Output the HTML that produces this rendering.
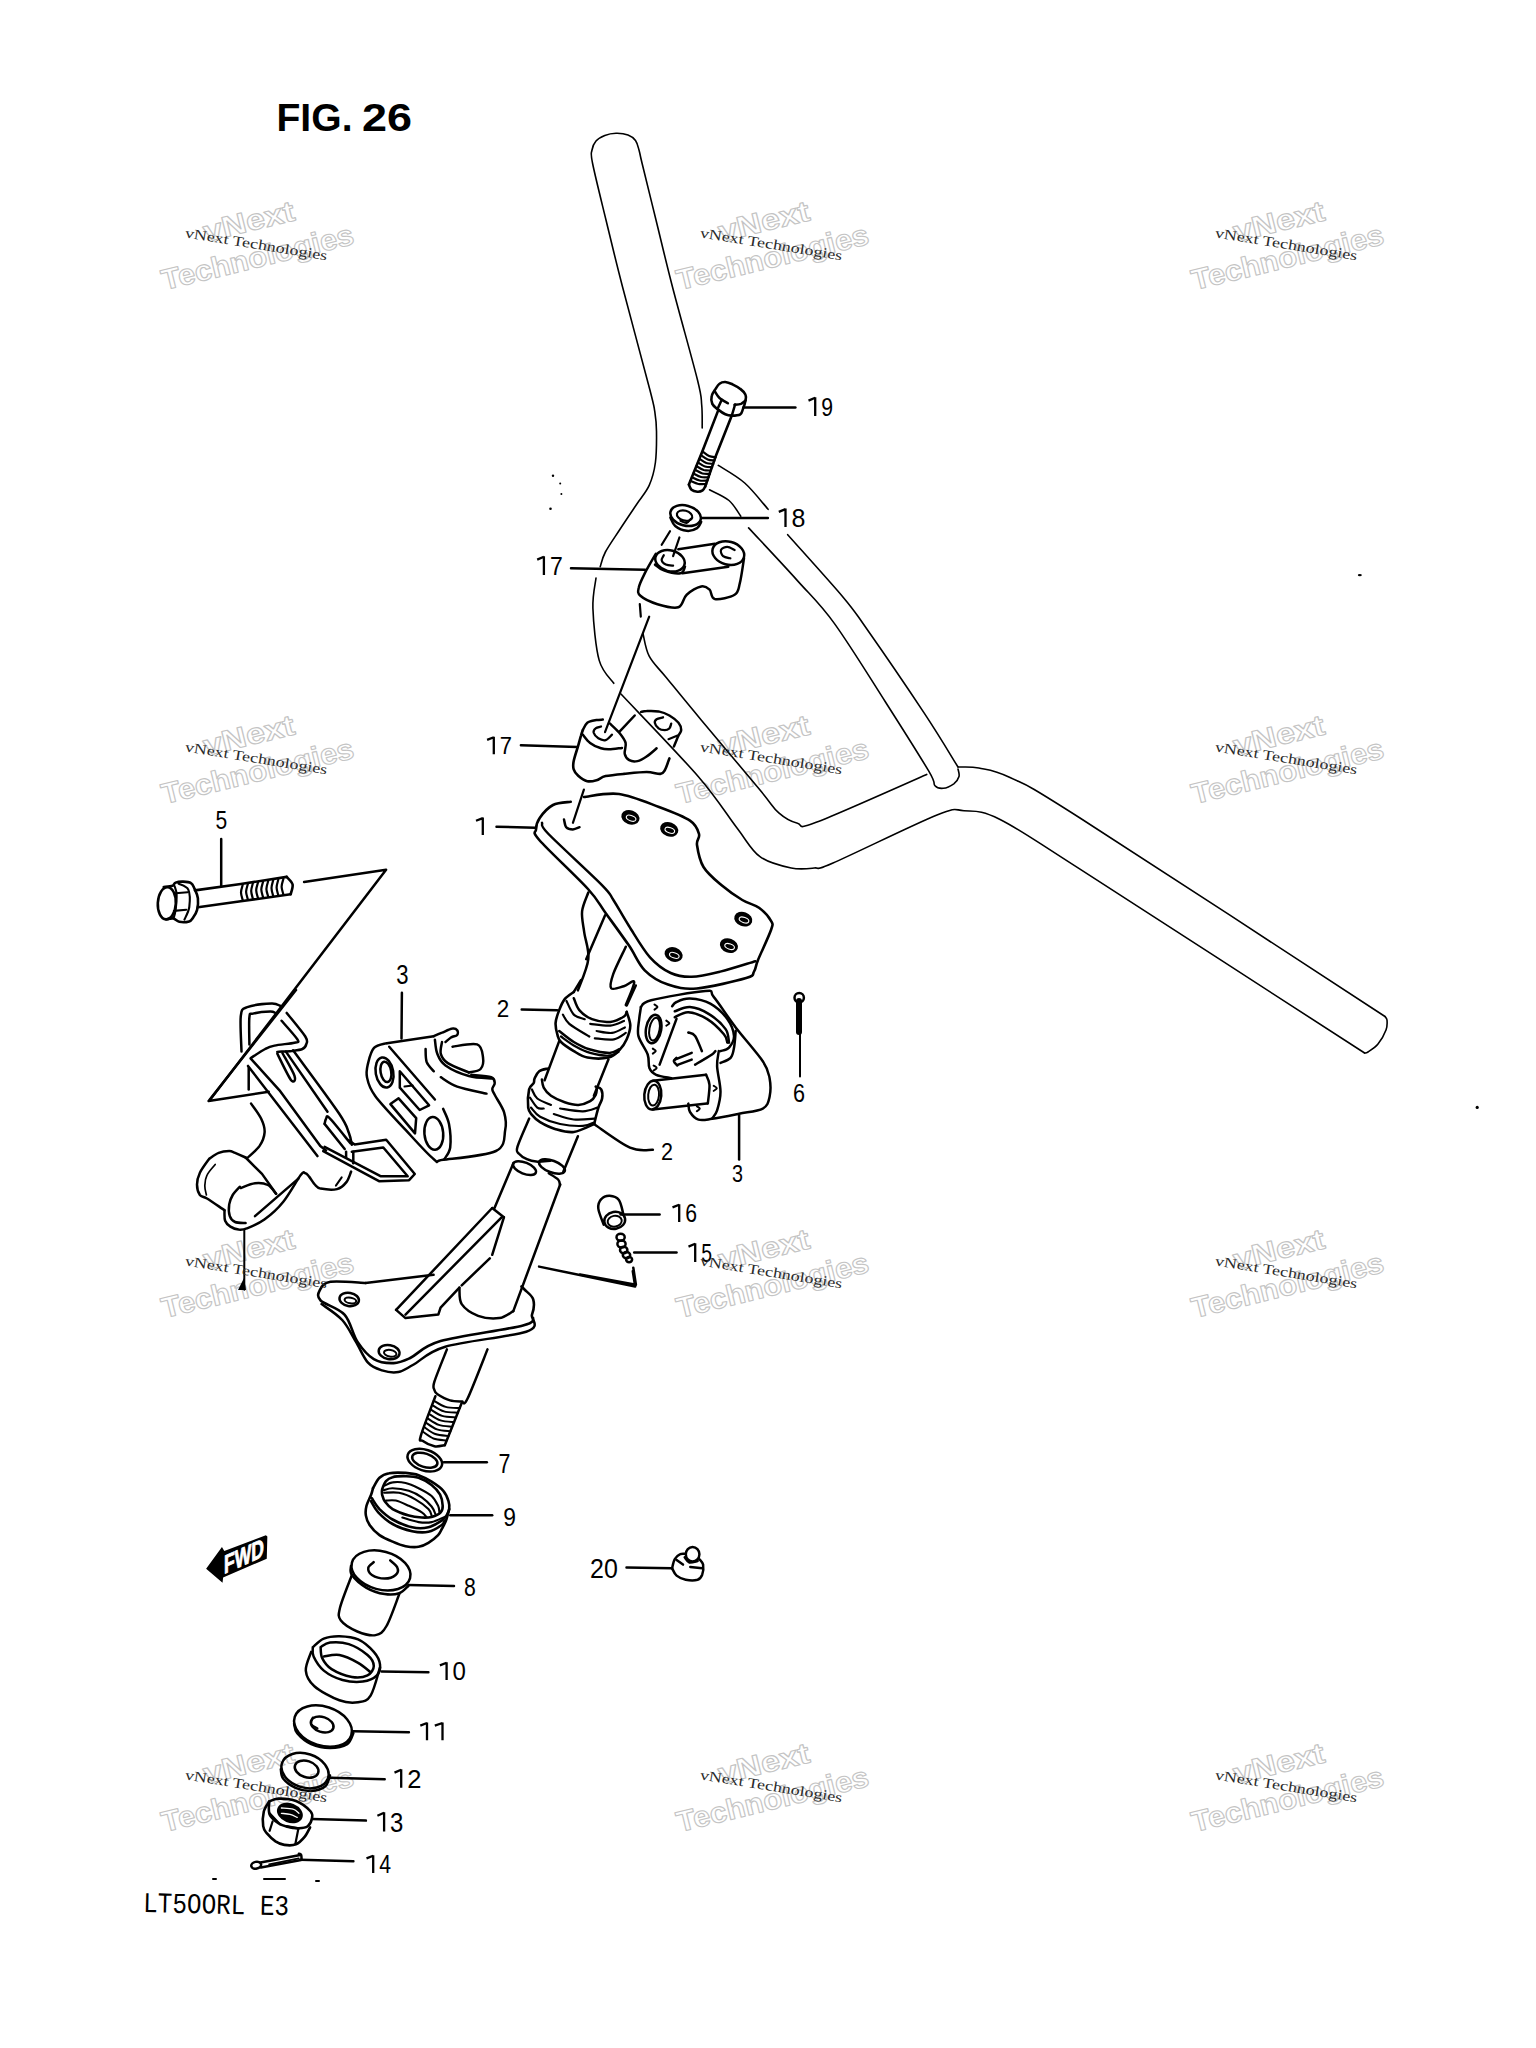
<!DOCTYPE html>
<html><head><meta charset="utf-8"><style>html,body{margin:0;padding:0;background:#fff;}svg{display:block;}</style></head>
<body><svg width="1536" height="2048" viewBox="0 0 1536 2048" stroke-linecap="round" stroke-linejoin="round">
<rect width="1536" height="2048" fill="#fff"/>
<g transform="translate(170.0 288.8) rotate(-13.7)" font-family="Liberation Sans" font-weight="bold" fill="#fff" stroke="#c4c4c4" stroke-width="1.1"><text x="-6" y="0" font-size="29" textLength="197" lengthAdjust="spacingAndGlyphs">Technologies</text><text x="46" y="-37" font-size="29" textLength="93" lengthAdjust="spacingAndGlyphs">vNext</text></g>
<g transform="translate(685.0 288.8) rotate(-13.7)" font-family="Liberation Sans" font-weight="bold" fill="#fff" stroke="#c4c4c4" stroke-width="1.1"><text x="-6" y="0" font-size="29" textLength="197" lengthAdjust="spacingAndGlyphs">Technologies</text><text x="46" y="-37" font-size="29" textLength="93" lengthAdjust="spacingAndGlyphs">vNext</text></g>
<g transform="translate(1200.0 288.8) rotate(-13.7)" font-family="Liberation Sans" font-weight="bold" fill="#fff" stroke="#c4c4c4" stroke-width="1.1"><text x="-6" y="0" font-size="29" textLength="197" lengthAdjust="spacingAndGlyphs">Technologies</text><text x="46" y="-37" font-size="29" textLength="93" lengthAdjust="spacingAndGlyphs">vNext</text></g>
<g transform="translate(170.0 802.8) rotate(-13.7)" font-family="Liberation Sans" font-weight="bold" fill="#fff" stroke="#c4c4c4" stroke-width="1.1"><text x="-6" y="0" font-size="29" textLength="197" lengthAdjust="spacingAndGlyphs">Technologies</text><text x="46" y="-37" font-size="29" textLength="93" lengthAdjust="spacingAndGlyphs">vNext</text></g>
<g transform="translate(685.0 802.8) rotate(-13.7)" font-family="Liberation Sans" font-weight="bold" fill="#fff" stroke="#c4c4c4" stroke-width="1.1"><text x="-6" y="0" font-size="29" textLength="197" lengthAdjust="spacingAndGlyphs">Technologies</text><text x="46" y="-37" font-size="29" textLength="93" lengthAdjust="spacingAndGlyphs">vNext</text></g>
<g transform="translate(1200.0 802.8) rotate(-13.7)" font-family="Liberation Sans" font-weight="bold" fill="#fff" stroke="#c4c4c4" stroke-width="1.1"><text x="-6" y="0" font-size="29" textLength="197" lengthAdjust="spacingAndGlyphs">Technologies</text><text x="46" y="-37" font-size="29" textLength="93" lengthAdjust="spacingAndGlyphs">vNext</text></g>
<g transform="translate(170.0 1316.8) rotate(-13.7)" font-family="Liberation Sans" font-weight="bold" fill="#fff" stroke="#c4c4c4" stroke-width="1.1"><text x="-6" y="0" font-size="29" textLength="197" lengthAdjust="spacingAndGlyphs">Technologies</text><text x="46" y="-37" font-size="29" textLength="93" lengthAdjust="spacingAndGlyphs">vNext</text></g>
<g transform="translate(685.0 1316.8) rotate(-13.7)" font-family="Liberation Sans" font-weight="bold" fill="#fff" stroke="#c4c4c4" stroke-width="1.1"><text x="-6" y="0" font-size="29" textLength="197" lengthAdjust="spacingAndGlyphs">Technologies</text><text x="46" y="-37" font-size="29" textLength="93" lengthAdjust="spacingAndGlyphs">vNext</text></g>
<g transform="translate(1200.0 1316.8) rotate(-13.7)" font-family="Liberation Sans" font-weight="bold" fill="#fff" stroke="#c4c4c4" stroke-width="1.1"><text x="-6" y="0" font-size="29" textLength="197" lengthAdjust="spacingAndGlyphs">Technologies</text><text x="46" y="-37" font-size="29" textLength="93" lengthAdjust="spacingAndGlyphs">vNext</text></g>
<g transform="translate(170.0 1830.8) rotate(-13.7)" font-family="Liberation Sans" font-weight="bold" fill="#fff" stroke="#c4c4c4" stroke-width="1.1"><text x="-6" y="0" font-size="29" textLength="197" lengthAdjust="spacingAndGlyphs">Technologies</text><text x="46" y="-37" font-size="29" textLength="93" lengthAdjust="spacingAndGlyphs">vNext</text></g>
<g transform="translate(685.0 1830.8) rotate(-13.7)" font-family="Liberation Sans" font-weight="bold" fill="#fff" stroke="#c4c4c4" stroke-width="1.1"><text x="-6" y="0" font-size="29" textLength="197" lengthAdjust="spacingAndGlyphs">Technologies</text><text x="46" y="-37" font-size="29" textLength="93" lengthAdjust="spacingAndGlyphs">vNext</text></g>
<g transform="translate(1200.0 1830.8) rotate(-13.7)" font-family="Liberation Sans" font-weight="bold" fill="#fff" stroke="#c4c4c4" stroke-width="1.1"><text x="-6" y="0" font-size="29" textLength="197" lengthAdjust="spacingAndGlyphs">Technologies</text><text x="46" y="-37" font-size="29" textLength="93" lengthAdjust="spacingAndGlyphs">vNext</text></g>
<path d="M600.2 566.7C601.1 564.2 602.1 558.2 605.4 552C608.7 545.8 614.8 537.2 620 529.2C625.2 521.2 631.8 511.5 636.7 504.2C641.6 496.9 646.1 492.3 649.2 485.4C652.3 478.4 654.2 471.5 655.4 462.5C656.6 453.5 656.6 439.7 656.5 431.2C656.4 422.8 655.9 418.8 654.8 411.7C653.6 404.6 655 409.6 649.6 388.8C644.2 367.9 629.8 314.8 622.5 286.7C615.2 258.6 611 240.6 606 220C601 199.4 594.8 174.7 592.5 163C590.2 151.3 591.4 153.7 592 150C592.6 146.3 593.9 143.4 596 141C598.1 138.6 601.5 136.8 604.8 135.5C608.1 134.2 612.1 133.4 616 133.3C619.9 133.2 624.8 133.8 628 135C631.2 136.2 633.7 138 635.5 140.5C637.3 143 637.9 146.2 639 150C640.1 153.8 639.2 151.3 642 163C644.8 174.7 650.9 199.3 656 220C661.1 240.7 665.6 260.3 672.5 287C679.4 313.7 692.6 360.3 697.5 380C702.4 399.7 700.9 397 701.7 405C702.5 413 702.1 424.2 702.2 428" stroke="#000" stroke-width="1.6" fill="none"/>
<path d="M596 578C595.5 583 592.4 594.6 592.9 608.3C593.4 622 595.7 647.9 599.2 660.4C602.7 672.9 611.3 679.5 613.8 683.3" stroke="#000" stroke-width="1.6" fill="none"/>
<path d="M621 694C633.8 707.7 678.6 753.9 698 776.2C717.4 798.6 726.9 814.9 737.2 828.3C747.5 841.7 751 850.1 760 856.7C769 863.3 782.2 866.1 791.2 868C800.3 869.9 807.2 868.8 814.2 868C821.2 867.2 812.5 871.8 833 863C853.5 854.2 915.2 823.7 937 815C958.8 806.3 953.6 810.1 964 810.8C974.4 811.5 980.3 809.5 999.6 819.2C1018.9 828.9 1019.2 830.2 1080 869.2C1140.8 908.2 1317.2 1022.4 1364.6 1053" stroke="#000" stroke-width="1.6" fill="none"/>
<path d="M1364.6 1053C1365.2 1052.8 1365.8 1053.5 1368 1052C1370.2 1050.5 1375 1047.7 1378 1044C1381 1040.3 1384.5 1034 1386 1030C1387.5 1026 1387.2 1022.2 1387 1020C1386.8 1017.8 1385.3 1017.1 1385 1016.5" stroke="#000" stroke-width="1.6" fill="none"/>
<path d="M1385 1016.5C1334.2 983.4 1142.5 857.8 1080 818C1017.5 778.2 1026.9 785.8 1010 777.5C993.1 769.2 987.4 769.8 978.8 768C970.1 766.2 961.5 767.2 958 767" stroke="#000" stroke-width="1.6" fill="none"/>
<path d="M718.3 465.4C722.7 468.3 736.4 475.7 744.7 483C753 490.3 764.2 504.9 768.1 509.3" stroke="#000" stroke-width="1.6" fill="none"/>
<path d="M787.7 534.7C796.8 545 829.3 580.8 842.3 596.2C855.3 611.7 852.1 608 865.8 627.5C879.5 647 909 690.1 924.4 713.4C939.8 736.6 952.4 758.1 958 767" stroke="#000" stroke-width="1.6" fill="none"/>
<path d="M709.5 489.8C712.8 491.6 723.8 496.1 729 500.5C734.2 504.9 738.8 513.6 740.8 516.2" stroke="#000" stroke-width="1.6" fill="none"/>
<path d="M748.6 527.9C756.7 536.7 783.1 564.6 797.4 580.6C811.7 596.6 819.9 603.4 834.5 623.6C849.1 643.8 869.6 677.1 885.3 701.7C901 726.3 920.5 757.2 928.8 771.2C937 785.3 932.6 783 935 785.8C937.4 788.6 940.2 788.6 943.3 788.3C946.4 788 951.1 785.7 953.8 783.8C956.4 781.8 958.3 779 959 776.5C959.7 774 958.2 770.2 958 769" stroke="#000" stroke-width="1.6" fill="none"/>
<path d="M642.9 633.3C644 637.1 645.4 649 649.2 656.2C653 663.5 657.1 666.4 665.8 677C674.5 687.6 685.5 701.2 701.2 720C717 738.8 747.1 774.5 760 790C772.9 805.5 772.5 807.4 778.8 812.9C785 818.4 791.2 821.7 797.5 823.3C803.8 824.9 794.7 830.4 816.2 822.3C837.8 814.1 908.3 782.4 926.7 774.4" stroke="#000" stroke-width="1.6" fill="none"/>
<path d="M715.6 388.9C716.2 388 717.9 384.8 719.5 383.7C721.1 382.5 723.2 381.9 725.3 382C727.5 382.2 730 383.2 732.5 384.3C735 385.5 738.1 387.1 740.3 388.9C742.5 390.6 744.7 392.8 745.5 394.7C746.4 396.7 746 398.2 745.5 400.6C745.1 403 743.8 406.8 742.9 409.1C742 411.3 742.2 413.2 740.3 414.3C738.5 415.4 734.3 415.6 731.8 415.6C729.4 415.6 727.7 415.4 725.3 414.3C723 413.2 719.7 410.8 717.5 409.1C715.4 407.3 713.3 406 712.3 403.9C711.3 401.7 711.1 398.5 711.7 396C712.2 393.5 714.9 390.1 715.6 388.9" stroke="#000" stroke-width="2.6" fill="none"/>
<path d="M714.9 391.5C715.7 392.6 717.3 396 719.5 398C721.6 399.9 726.5 402.3 727.9 403.2" stroke="#000" stroke-width="2.5" fill="none"/>
<path d="M734.5 404.8C735.5 404.7 739.1 404.6 741 403.9C742.8 403.1 744.8 401.1 745.5 400.6" stroke="#000" stroke-width="2.5" fill="none"/>
<path d="M721.4 400.6 L717.5 409.1" stroke="#000" stroke-width="2.5" fill="none"/>
<path d="M735.1 404.5 L731.8 415.6" stroke="#000" stroke-width="2.5" fill="none"/>
<path d="M743.3 407.5 L795.4 407.5" stroke="#000" stroke-width="2.5" fill="none"/>
<path d="M718.2 410.4 L702.6 450.7 L688.9 484.6" stroke="#000" stroke-width="2.6" fill="none"/>
<path d="M731.8 415.6 L715.6 456.6 L705.2 486.5" stroke="#000" stroke-width="2.6" fill="none"/>
<path d="M688.9 484.6C689.3 485.5 690.1 488.6 691.5 489.8C692.9 491 695.5 491.6 697.3 491.7C699.2 491.9 701.2 491.3 702.6 490.4C703.9 489.6 704.7 487.2 705.2 486.5" stroke="#000" stroke-width="2.6" fill="none"/>
<path d="M702.6 451.4C703.6 452.1 706.9 455 709.1 455.9C711.2 456.9 714.5 457 715.6 457.2" stroke="#000" stroke-width="2.2" fill="none"/>
<path d="M701 455.1C702.1 455.8 705.5 458.5 707.7 459.4C710 460.4 713.3 460.4 714.4 460.6" stroke="#000" stroke-width="2.2" fill="none"/>
<path d="M699.5 458.8C700.7 459.5 704.1 462.1 706.4 463C708.7 463.8 712.1 463.7 713.3 463.9" stroke="#000" stroke-width="2.2" fill="none"/>
<path d="M698 462.4C699.2 463.1 702.7 465.7 705 466.5C707.4 467.3 710.9 467.1 712.1 467.2" stroke="#000" stroke-width="2.2" fill="none"/>
<path d="M696.5 466.1C697.7 466.8 701.3 469.2 703.7 470C706.1 470.7 709.7 470.5 710.9 470.5" stroke="#000" stroke-width="2.2" fill="none"/>
<path d="M695 469.8C696.2 470.4 699.9 472.8 702.4 473.5C704.8 474.2 708.6 473.8 709.8 473.9" stroke="#000" stroke-width="2.2" fill="none"/>
<path d="M693.4 473.5C694.7 474.1 698.5 476.4 701 477C703.6 477.6 707.4 477.2 708.6 477.2" stroke="#000" stroke-width="2.2" fill="none"/>
<path d="M691.9 477.2C693.2 477.8 697.1 479.9 699.7 480.5C702.3 481.1 706.2 480.5 707.5 480.5" stroke="#000" stroke-width="2.2" fill="none"/>
<path d="M690.4 480.9C691.7 481.4 695.7 483.5 698.4 484C701 484.5 705 483.9 706.3 483.9" stroke="#000" stroke-width="2.2" fill="none"/>
<ellipse cx="685.6" cy="515.6" rx="15.6" ry="10" transform="rotate(15 685.6 515.6)" stroke="#000" stroke-width="2.5" fill="none"/>
<path d="M670.4 517.7C671.2 519.1 672.5 523.9 675.2 526C677.9 528.2 683 530.5 686.7 530.8C690.3 531.2 694.7 529.6 697.1 528.1C699.5 526.6 700.6 522.9 701.2 521.9" stroke="#000" stroke-width="2.5" fill="none"/>
<ellipse cx="684.6" cy="515.6" rx="7.9" ry="5" transform="rotate(15 684.6 515.6)" stroke="#000" stroke-width="2.2" fill="none"/>
<path d="M680.4 520.8C681.5 521.2 684.9 523.3 686.7 522.9C688.4 522.6 690.1 519.4 690.8 518.8" stroke="#000" stroke-width="2.0" fill="none"/>
<path d="M701.2 518.1 L767.9 518.1" stroke="#000" stroke-width="2.5" fill="none"/>
<ellipse cx="670" cy="560.8" rx="15" ry="10.4" transform="rotate(15 670 560.8)" stroke="#000" stroke-width="2.5" fill="none"/>
<path d="M663.8 555.2C663.4 556.1 661.3 558.9 661.7 560.4C662 562 663.9 563.7 665.8 564.6C667.7 565.5 671.9 565.5 673.1 565.6" stroke="#000" stroke-width="2.2" fill="none"/>
<ellipse cx="728.3" cy="553.1" rx="16.2" ry="11.5" transform="rotate(15 728.3 553.1)" stroke="#000" stroke-width="2.5" fill="none"/>
<path d="M734.6 550C733.4 549.5 729.5 546.9 727.3 546.9C725 546.9 721.7 548.4 721 550C720.3 551.6 721.6 554.9 723.1 556.2C724.7 557.6 729.2 558 730.4 558.3" stroke="#000" stroke-width="2.2" fill="none"/>
<path d="M678.3 549.2 L714.8 543.8" stroke="#000" stroke-width="2.5" fill="none"/>
<path d="M682.5 573.3 L728.3 566.7" stroke="#000" stroke-width="2.5" fill="none"/>
<path d="M655.8 553.8C654 556.9 647.8 567.3 645 572.9C642.2 578.5 639.5 583.7 638.8 587.5C638 591.3 637.3 593.1 640.4 595.8C643.5 598.6 651.2 602.3 657.5 604.2C663.8 606.1 673.5 608.9 678.3 607.3C683.2 605.7 682.8 598.3 686.7 594.8C690.5 591.3 697.4 587.3 701.2 586.5C705.1 585.6 707.3 587.5 709.6 589.6C711.8 591.7 710.6 598.1 714.8 599C719 599.8 730.4 597.4 734.6 594.8C738.8 592.2 738.2 589.4 739.8 583.3C741.4 577.3 743.3 562.5 744 558.3" stroke="#000" stroke-width="2.5" fill="none"/>
<path d="M655 564.6C656.5 565.6 659.5 569 663.8 570.4C668 571.9 676.9 574 680.4 573.3C684 572.7 684.2 567.8 685 566.7" stroke="#000" stroke-width="2.5" fill="none"/>
<path d="M571 568.3 L645 569.8" stroke="#000" stroke-width="2.5" fill="none"/>
<path d="M639.8 604.2 L640.8 616.7" stroke="#000" stroke-width="2.2" fill="none"/>
<path d="M649.2 616.7 L605 732.1" stroke="#000" stroke-width="2.2" fill="none"/>
<path d="M670 531.2 L661.7 544.8" stroke="#000" stroke-width="2.2" fill="none"/>
<path d="M679.4 537.5 L673.1 556.2" stroke="#000" stroke-width="2.2" fill="none"/>
<path d="M582.8 730.1C583.5 728.9 585.1 724.5 587.3 722.8C589.6 721.1 593.9 720.6 596.5 720.1C599 719.6 601.8 719.7 602.8 719.6" stroke="#000" stroke-width="2.5" fill="none"/>
<path d="M601 726.5C600.1 726.8 596.8 727.2 595.6 728.3C594.3 729.3 593.3 731.2 593.7 732.8C594.2 734.5 596.3 737.1 598.3 738.3C600.3 739.5 603.3 740.7 605.6 740.1C607.9 739.5 610.9 735.6 612 734.7" stroke="#000" stroke-width="2.3" fill="none"/>
<path d="M582.8 734.7C584 736 587 740.6 590.1 742.9C593.1 745.2 597.8 747.3 601 748.3C604.2 749.4 605.7 749.3 609.2 749.3C612.7 749.2 619.9 748.1 622 747.9" stroke="#000" stroke-width="2.5" fill="none"/>
<path d="M582.8 730.1C582.5 731 581.7 733 581 735.6C580.2 738.2 579.4 741.4 578.2 745.6C577 749.9 574.4 757.2 573.7 761.1C572.9 765.1 572.9 766.9 573.7 769.3C574.4 771.7 576 773.7 578.2 775.7C580.5 777.7 584.3 780.4 587.3 781.2C590.4 781.9 593.4 781.1 596.5 780.2C599.5 779.4 601 777.2 605.6 776.1C610.1 775.1 617 774.5 623.8 773.9C630.6 773.2 640.5 772 646.6 772C652.7 772 657.2 774.2 660.3 773.9C663.3 773.6 663.3 772.8 664.8 770.2C666.4 767.6 668.6 760.3 669.4 758.4" stroke="#000" stroke-width="2.6" fill="none"/>
<path d="M610.1 723.7C611.7 725.2 616.7 729.7 619.3 732.8C621.8 736 624.7 739.4 625.6 742.9C626.5 746.4 624.1 750.9 624.7 753.8C625.3 756.7 627.2 759 629.3 760.2C631.4 761.4 634.6 761.7 637.5 761.1C640.4 760.5 643.4 758.7 646.6 756.5C649.8 754.4 655 749.7 656.6 748.3" stroke="#000" stroke-width="2.5" fill="none"/>
<path d="M619.3 731.9 L634.7 715.5" stroke="#000" stroke-width="2.5" fill="none"/>
<path d="M641.1 711.9C642 711.7 643.7 711 646.6 711C649.5 710.9 654.7 710.7 658.5 711.4C662.2 712.2 666 713.6 669.4 715.5C672.7 717.4 676.5 720.4 678.5 722.8C680.5 725.2 681.2 728 681.2 730.1C681.2 732.2 679.7 732.8 678.5 735.6C677.3 738.3 674.7 744.7 673.9 746.5" stroke="#000" stroke-width="2.5" fill="none"/>
<path d="M663 717.3C661.9 717.7 658 718.3 656.6 719.2C655.3 720.1 654.5 721.3 654.8 722.8C655.1 724.3 656.8 727.1 658.5 728.3C660.1 729.5 663 730.1 664.8 730.1C666.7 730.1 668.3 729.3 669.4 728.3C670.5 727.2 670.9 724.5 671.2 723.7" stroke="#000" stroke-width="2.3" fill="none"/>
<path d="M668.5 739.2 L677.6 735.6" stroke="#000" stroke-width="2.2" fill="none"/>
<path d="M583.9 789.6 L572.9 822.8" stroke="#000" stroke-width="2.2" fill="none"/>
<path d="M520.9 745.3 L577.3 747.1" stroke="#000" stroke-width="2.5" fill="none"/>
<path d="M570.7 801.8C567.8 802.3 558.2 802.3 553 805C547.8 807.7 542.5 813.9 539.7 818C536.9 822.1 536 825.6 536 829.4C536 833.1 531 830.6 539.7 840.5C548.4 850.4 577 876.9 588 889C599 901.1 598.8 903.6 605.6 913C612.4 922.4 622.5 936.1 629 945.6C635.5 955.1 638.2 963.8 644.7 970.3C651.2 976.8 659.3 981.6 668 984.6C676.7 987.6 683.8 989.6 696.8 988.5C709.8 987.4 736.7 980.8 746.2 978C755.8 975.2 752 974.6 754 971.6C756 968.6 755.2 966.9 758 960C760.8 953.1 768.8 936.5 771 930C773.2 923.5 773 924.5 771 920.8C769 917.1 763.8 911.3 759 907.8C754.2 904.3 748.6 903.8 742.3 900C736 896.2 727.5 890.3 721 884.8C714.5 879.3 707.5 873.6 703.5 867C699.5 860.4 697.8 850.5 697 845C696.2 839.5 700.2 838.1 699 834C697.8 829.9 696.7 825.1 690 820.6C683.3 816.1 670.8 811.4 659 807C647.2 802.6 631.5 795.7 619 794C606.5 792.3 589.8 796.5 584 797" stroke="#000" stroke-width="2.6" fill="none"/>
<path d="M542 822.8C543.1 824.7 538.5 823.7 548.5 834C558.5 844.3 590.9 873.8 601.7 884.8C612.5 895.8 608.9 893.1 613.4 900C617.9 906.9 622.9 916.5 629 926C635.1 935.5 643 949.5 650 957.3C657 965.1 663.8 969.8 670.7 973C677.6 976.2 683.4 977 691.6 976.8C699.9 976.6 709.6 974.2 720.2 971.6C730.8 969 749.5 962.9 755.4 961.2" stroke="#000" stroke-width="2.5" fill="none"/>
<ellipse cx="630.4" cy="817.3" rx="8.2" ry="6" transform="rotate(20 630.4 817.3)" stroke="#000" stroke-width="2.2" fill="#000"/>
<ellipse cx="631.1" cy="818.2" rx="5" ry="2.6" transform="rotate(20 631.1 818.2)" stroke="#fff" stroke-width="1.1" fill="none"/>
<ellipse cx="669.2" cy="829.4" rx="8.2" ry="6" transform="rotate(20 669.2 829.4)" stroke="#000" stroke-width="2.2" fill="#000"/>
<ellipse cx="669.8" cy="830.3" rx="5" ry="2.6" transform="rotate(20 669.8 830.3)" stroke="#fff" stroke-width="1.1" fill="none"/>
<ellipse cx="743.3" cy="919.1" rx="8.2" ry="6" transform="rotate(20 743.3 919.1)" stroke="#000" stroke-width="2.2" fill="#000"/>
<ellipse cx="744.0" cy="920.0" rx="5" ry="2.6" transform="rotate(20 744.0 920.0)" stroke="#fff" stroke-width="1.1" fill="none"/>
<ellipse cx="728.9" cy="945.6" rx="8.2" ry="6" transform="rotate(20 728.9 945.6)" stroke="#000" stroke-width="2.2" fill="#000"/>
<ellipse cx="729.6" cy="946.5" rx="5" ry="2.6" transform="rotate(20 729.6 946.5)" stroke="#fff" stroke-width="1.1" fill="none"/>
<ellipse cx="673.6" cy="954.5" rx="8.2" ry="6" transform="rotate(20 673.6 954.5)" stroke="#000" stroke-width="2.2" fill="#000"/>
<ellipse cx="674.3" cy="955.4" rx="5" ry="2.6" transform="rotate(20 674.3 955.4)" stroke="#fff" stroke-width="1.1" fill="none"/>
<path d="M564 819.5C564.4 820.8 564.8 825.6 566.2 827.2C567.7 828.9 570.7 829.4 572.9 829.4C575.1 829.4 578.4 827.6 579.5 827.2" stroke="#000" stroke-width="2.5" fill="none"/>
<path d="M496.5 826.8 L535.3 827.7" stroke="#000" stroke-width="2.5" fill="none"/>
<g fill="#000"><circle cx="553" cy="475.8" r="1.2"/><circle cx="560.2" cy="483.4" r="1"/><circle cx="561.4" cy="494" r="1"/><circle cx="550.5" cy="508.8" r="1.3"/><ellipse cx="1359.8" cy="575.1" rx="2" ry="1.2"/><circle cx="1477.2" cy="1107.4" r="1.6"/></g>
<path d="M588.3 892.5C587.3 895.6 582.8 904.7 582.1 911.2C581.4 917.8 583.1 924.1 584.2 932.1C585.2 940.1 589.4 949.4 588.3 959.2C587.3 968.9 579.7 985.2 577.9 990.4" stroke="#000" stroke-width="2.5" fill="none"/>
<path d="M605 915.4 L586.2 959.2" stroke="#000" stroke-width="2.5" fill="none"/>
<path d="M625.8 946.7C623.8 951.2 615.8 966.8 613.3 973.8C610.9 980.7 609.5 986.2 611.2 988.3C613 990.4 619.9 987.3 623.8 986.2C627.6 985.2 633.8 979 634.2 982.1C634.5 985.2 627.2 1001.2 625.8 1005" stroke="#000" stroke-width="2.5" fill="none"/>
<path d="M573.8 991.9C572.3 993.1 567.1 996.1 564.7 999.1C562.3 1002.1 560.7 1006.2 559.2 1010.1C557.7 1014 555.9 1018.7 555.6 1022.8C555.3 1026.9 556.5 1031.5 557.4 1034.7C558.3 1037.9 558.3 1039.3 561 1042C563.7 1044.7 569.4 1048.5 573.8 1051.1C578.2 1053.7 581.7 1056.4 587.5 1057.5C593.3 1058.6 603.2 1058.7 608.5 1057.5C613.8 1056.3 616.4 1053.2 619.4 1050.2C622.4 1047.2 624.9 1043.4 626.7 1039.3C628.5 1035.2 630.3 1030.2 630.3 1025.6C630.3 1021 627.3 1014.2 626.7 1011.9" stroke="#000" stroke-width="2.6" fill="none"/>
<path d="M573.8 998.2C574.7 1000.2 576.3 1006.6 579.3 1010.1C582.3 1013.6 586.8 1017.2 592 1019.2C597.2 1021.2 605 1022.4 610.3 1021.9C615.6 1021.4 621.3 1018.2 624 1016.5C626.7 1014.8 626.2 1012.7 626.7 1011.9" stroke="#000" stroke-width="2.5" fill="none"/>
<path d="M566.5 1001C567.7 1003.3 570.8 1011.6 573.8 1014.6C576.8 1017.6 582.9 1018.4 584.7 1019.2" stroke="#000" stroke-width="2.2" fill="none"/>
<path d="M590.2 1023.8C593.6 1024.1 604.7 1026.1 610.3 1025.6C615.9 1025.1 621.7 1021.8 624 1021" stroke="#000" stroke-width="2.2" fill="none"/>
<path d="M562.9 1014.6C564 1016.1 564.9 1020.1 569.3 1023.8C573.7 1027.5 586 1034.4 589.3 1036.5" stroke="#000" stroke-width="2.2" fill="none"/>
<path d="M596.6 1031C599.2 1031.3 607.4 1033.5 612.1 1032.9C616.8 1032.3 622.8 1028.3 624.9 1027.4" stroke="#000" stroke-width="2.2" fill="none"/>
<path d="M594.8 1038.3C598 1038.5 608.7 1040.2 613.9 1039.3C619.1 1038.4 623.8 1034 625.8 1032.9" stroke="#000" stroke-width="2.2" fill="none"/>
<path d="M559.2 1031C561.6 1032.8 568.8 1039 573.8 1042C578.8 1045 583.4 1047.5 589.3 1049.3C595.2 1051.1 604.4 1052.9 609.4 1052.9C614.4 1052.9 617.7 1049.9 619.4 1049.3" stroke="#000" stroke-width="2.5" fill="none"/>
<path d="M561 1036.5C563.4 1038.2 570.7 1043.8 575.6 1046.5C580.5 1049.2 584.7 1051.4 590.2 1052.9C595.7 1054.4 603.8 1055.9 608.5 1055.7C613.2 1055.5 616.8 1052.6 618.5 1052" stroke="#000" stroke-width="2.2" fill="none"/>
<path d="M573.8 991.9 L581.1 980" stroke="#000" stroke-width="2.5" fill="none"/>
<path d="M626.7 1005.5 L635.8 985.5" stroke="#000" stroke-width="2.5" fill="none"/>
<path d="M559.2 1041.1 L544.6 1080.3" stroke="#000" stroke-width="2.5" fill="none"/>
<path d="M608.5 1059.3 L593.9 1095.8" stroke="#000" stroke-width="2.5" fill="none"/>
<path d="M548.3 1068.4C546.8 1068.9 541.5 1069.5 539.2 1071.2C536.9 1072.9 535.5 1076.5 534.6 1078.5C533.7 1080.5 534.6 1081.2 533.7 1083C532.8 1084.8 530 1085.3 529.1 1089.4C528.2 1093.5 527.7 1103.3 528.2 1107.6C528.7 1111.8 529.9 1112.5 531.9 1114.9C533.9 1117.3 536.2 1119.9 540.1 1122.2C544 1124.5 549.4 1127.4 555 1129C560.6 1130.6 567.1 1132.9 573.8 1132C580.4 1131.1 591.1 1125.1 594.6 1123.8" stroke="#000" stroke-width="2.6" fill="none"/>
<path d="M541.9 1079.4C542.2 1080.8 542.2 1084.9 543.7 1087.6C545.2 1090.3 547.5 1093.4 551 1095.8C554.5 1098.2 560.1 1100.7 564.7 1102.2C569.3 1103.7 574.1 1105.1 578.4 1104.9C582.6 1104.7 587.3 1102.9 590.2 1101.2C593.1 1099.5 594.6 1097.1 595.7 1094.9C596.8 1092.7 596.8 1089.2 597 1088" stroke="#000" stroke-width="2.5" fill="none"/>
<path d="M595.7 1086.7C596.6 1087.2 600.1 1087.4 601.2 1089.4C602.3 1091.4 602.6 1095.5 602.1 1098.5C601.6 1101.5 599.6 1103.8 598.4 1107.6C597.2 1111.4 595.4 1119 594.8 1121.3" stroke="#000" stroke-width="2.6" fill="none"/>
<path d="M531.9 1089.4C532.8 1090.9 534.1 1095.9 537.3 1098.5C540.5 1101.1 548.7 1103.8 551 1104.9" stroke="#000" stroke-width="2.2" fill="none"/>
<path d="M560.1 1108.5C563.9 1109 576.7 1111.5 582.9 1111.3C589.1 1111.1 595.1 1108.2 597.5 1107.6" stroke="#000" stroke-width="2.2" fill="none"/>
<path d="M530 1097.6C531.2 1099.3 535 1105.8 537.3 1107.6C539.6 1109.4 542.6 1108.3 543.7 1108.5" stroke="#000" stroke-width="2.2" fill="none"/>
<path d="M553.8 1114C557.1 1114.9 567 1118.7 573.8 1119.5C580.6 1120.3 591.3 1118.8 594.8 1118.6" stroke="#000" stroke-width="2.2" fill="none"/>
<path d="M531 1107.6C532.5 1109.1 535.2 1114 540.1 1116.7C545 1119.4 553 1122.5 560.1 1124C567.2 1125.5 577.1 1126.2 582.9 1125.9C588.7 1125.6 592.8 1122.8 594.8 1122.2" stroke="#000" stroke-width="2.2" fill="none"/>
<path d="M529.2 1118.6C527.2 1123.3 519.2 1140.8 517.5 1146.7C515.8 1152.6 517.4 1151.7 519 1153.8C520.6 1155.8 524 1157.9 526.9 1159.2C529.8 1160.5 532.4 1161.3 536.2 1161.6C540.1 1161.9 548 1160.9 550.3 1160.8" stroke="#000" stroke-width="2.5" fill="none"/>
<path d="M548.8 1173.3C550.3 1174.3 556.2 1177.5 558.1 1179.5C560 1181.5 559.7 1184.1 560 1185" stroke="#000" stroke-width="2.5" fill="none"/>
<path d="M577.9 1136.2 L563.3 1171.7" stroke="#000" stroke-width="2.5" fill="none"/>
<path d="M521.7 1009.6 L557.1 1010.2" stroke="#000" stroke-width="2.5" fill="none"/>
<path d="M593.5 1123.8C599.6 1127.7 620.1 1143.4 630 1147.7C639.9 1152 649.1 1149.4 652.9 1149.8" stroke="#000" stroke-width="2.5" fill="none"/>
<path d="M640.9 1007.1C642.6 1006 640.4 1003 651.1 1000.3C661.8 997.6 694.8 991.6 705.3 991C715.7 990.4 708.6 990.9 713.7 996.9C718.8 1003 727.5 1016.7 735.7 1027.4C743.9 1038.1 757.2 1052.8 762.8 1061.2C768.4 1069.7 768.4 1072.2 769.6 1078.2C770.7 1084.1 770.7 1091.7 769.6 1096.8C768.4 1101.9 767.9 1105.8 762.8 1108.6C757.7 1111.5 747.6 1112 739.1 1113.7C730.6 1115.4 718.8 1117.8 712 1118.8C705.3 1119.8 702.2 1120.8 698.5 1119.6C694.8 1118.5 691.7 1114.7 690 1112C688.3 1109.3 688.6 1105 688.3 1103.6" stroke="#000" stroke-width="2.5" fill="none"/>
<path d="M640.9 1007.1C640.7 1009.1 639.7 1014.1 639.2 1018.9C638.8 1023.7 637 1029.9 638.4 1035.9C639.8 1041.8 645.9 1049.1 647.7 1054.5C649.5 1059.8 648 1064.6 649.4 1068C650.8 1071.4 652.5 1073.1 656.2 1074.8C659.8 1076.5 668.9 1077.6 671.4 1078.2" stroke="#000" stroke-width="2.5" fill="none"/>
<ellipse cx="653.6" cy="1029.1" rx="7.6" ry="14.4" transform="rotate(10 653.6 1029.1)" stroke="#000" stroke-width="2.5" fill="none"/>
<ellipse cx="654.5" cy="1029.1" rx="5.1" ry="11.5" transform="rotate(10 654.5 1029.1)" stroke="#000" stroke-width="2.0" fill="none"/>
<path d="M672.2 1006.2C673 1005.5 673.5 1003.3 676.5 1002C679.4 1000.7 684.4 998.3 690 998.6C695.7 998.9 704.1 1000.3 710.3 1003.7C716.5 1007.1 723.3 1013.6 727.3 1018.9C731.2 1024.3 733.7 1031.1 734 1035.9C734.3 1040.7 731.2 1045.2 729 1047.7C726.7 1050.2 721.9 1050.5 720.5 1051.1" stroke="#000" stroke-width="2.5" fill="none"/>
<path d="M674.8 1011.3C677.3 1010.6 684.4 1006.7 690 1007.1C695.7 1007.5 702.7 1010.2 708.6 1013.9C714.6 1017.5 722.2 1024.3 725.6 1029.1C729 1033.9 728.4 1040.4 729 1042.6" stroke="#000" stroke-width="2.5" fill="none"/>
<path d="M674.8 1017.2C677 1016.4 683 1011.9 688.3 1012.2C693.7 1012.4 701 1015.3 706.9 1018.9C712.9 1022.6 720.5 1030.2 723.9 1034.2C727.3 1038.1 726.7 1041.2 727.3 1042.6" stroke="#000" stroke-width="2.5" fill="none"/>
<path d="M720.5 1062.9C722.2 1062.1 728.4 1060.4 730.6 1057.9C732.9 1055.3 733.2 1052.2 734 1047.7C734.9 1043.2 735.4 1033.6 735.7 1030.8" stroke="#000" stroke-width="2.5" fill="none"/>
<path d="M676.5 1018.9 L659.6 1064.6" stroke="#000" stroke-width="2.5" fill="none"/>
<ellipse cx="652.8" cy="1095.1" rx="8.5" ry="14.4" transform="rotate(5 652.8 1095.1)" stroke="#000" stroke-width="2.5" fill="none"/>
<ellipse cx="653.6" cy="1095.1" rx="5.4" ry="10.5" transform="rotate(5 653.6 1095.1)" stroke="#000" stroke-width="2.0" fill="none"/>
<path d="M652.8 1080.7 L706.1 1074.8" stroke="#000" stroke-width="2.5" fill="none"/>
<path d="M652.8 1109.5 L706.9 1103.6" stroke="#000" stroke-width="2.5" fill="none"/>
<path d="M706.1 1074.8C706.7 1076.5 709.2 1080.1 709.5 1084.9C709.8 1089.7 708.1 1100.5 707.8 1103.6" stroke="#000" stroke-width="2.5" fill="none"/>
<path d="M674.8 1059.6 L691.7 1052.8" stroke="#000" stroke-width="2.5" fill="none"/>
<path d="M678.2 1064.6 L691.7 1059.6" stroke="#000" stroke-width="2.5" fill="none"/>
<path d="M676.5 1057.9C676.1 1058.4 673.8 1060 673.9 1061.2C674.1 1062.5 676.8 1064.8 677.3 1065.5" stroke="#000" stroke-width="2.5" fill="none"/>
<path d="M688.3 1032.5C689.5 1033 692.8 1032.8 695.1 1035.9C697.4 1039 700.7 1048.6 701.9 1051.1" stroke="#000" stroke-width="2.5" fill="none"/>
<path d="M718.8 1051.1C718.5 1053.6 716.8 1059.6 717.1 1066.3C717.4 1073.1 720.5 1084.4 720.5 1091.7C720.5 1099 718.5 1105.8 717.1 1110.3C715.7 1114.8 712.9 1117.4 712 1118.8" stroke="#000" stroke-width="2.5" fill="none"/>
<path d="M695.1 1064.6C696.5 1063.8 700.7 1061.2 703.6 1059.6C706.4 1057.9 710 1055.9 712 1054.5C714 1053.1 714.8 1051.7 715.4 1051.1" stroke="#000" stroke-width="2.5" fill="none"/>
<path d="M654.5 1004.5C655 1005 657.5 1006.2 657.5 1007.1C657.5 1007.9 655 1009.2 654.5 1009.6" stroke="#000" stroke-width="2.0" fill="none"/>
<path d="M666.3 1020.6C666.8 1021 669.4 1022.3 669.4 1023.2C669.4 1024 666.8 1025.3 666.3 1025.7" stroke="#000" stroke-width="2.0" fill="none"/>
<path d="M652.8 1048.6C653.3 1049 655.8 1050.2 655.8 1051.1C655.8 1051.9 653.3 1053.2 652.8 1053.6" stroke="#000" stroke-width="2.0" fill="none"/>
<path d="M713.7 1085.8C714.2 1086.2 716.8 1087.5 716.8 1088.3C716.8 1089.2 714.2 1090.4 713.7 1090.9" stroke="#000" stroke-width="2.0" fill="none"/>
<path d="M696.8 1106.1C697.3 1106.5 699.8 1107.8 699.8 1108.6C699.8 1109.5 697.3 1110.8 696.8 1111.2" stroke="#000" stroke-width="2.0" fill="none"/>
<path d="M653.6 1065.5C654.1 1065.9 656.7 1067.2 656.7 1068C656.7 1068.9 654.1 1070.1 653.6 1070.6" stroke="#000" stroke-width="2.0" fill="none"/>
<path d="M739.1 1115.4 L739.1 1159.4" stroke="#000" stroke-width="2.5" fill="none"/>
<ellipse cx="799.2" cy="997.8" rx="4.7" ry="4.7" transform="rotate(0 799.2 997.8)" stroke="#000" stroke-width="2.5" fill="none"/>
<path d="M799 1001 L799 1032" stroke="#000" stroke-width="6"/>
<path d="M800 1030.8 L800 1076.5" stroke="#000" stroke-width="2.0" fill="none"/>
<path d="M603.7 1224.6C602.8 1221.9 598.7 1212.7 598.3 1208.5C597.9 1204.3 599.3 1201.3 601.2 1199.2C603 1197.1 606.7 1195.7 609.6 1195.8C612.6 1196 616.7 1197.1 618.9 1200C621.2 1203 622.5 1211.3 623.2 1213.6" stroke="#000" stroke-width="2.5" fill="none"/>
<ellipse cx="614.7" cy="1220.4" rx="10.5" ry="8.5" transform="rotate(-10 614.7 1220.4)" stroke="#000" stroke-width="2.5" fill="none"/>
<ellipse cx="614.7" cy="1221.2" rx="7.1" ry="5.4" transform="rotate(-10 614.7 1221.2)" stroke="#000" stroke-width="2.0" fill="none"/>
<path d="M620.6 1214.4 L659.6 1214.4" stroke="#000" stroke-width="2.5" fill="none"/>
<ellipse cx="620.6" cy="1237.3" rx="4.1" ry="3.5" transform="rotate(0 620.6 1237.3)" stroke="#000" stroke-width="2.5" fill="none"/>
<ellipse cx="621.5" cy="1244" rx="4.1" ry="3.5" transform="rotate(0 621.5 1244)" stroke="#000" stroke-width="2.5" fill="none"/>
<ellipse cx="623.7" cy="1250" rx="3.7" ry="3.2" transform="rotate(0 623.7 1250)" stroke="#000" stroke-width="2.5" fill="none"/>
<ellipse cx="626.5" cy="1255.1" rx="3.7" ry="3.2" transform="rotate(0 626.5 1255.1)" stroke="#000" stroke-width="2.5" fill="none"/>
<ellipse cx="629.1" cy="1259.6" rx="3" ry="2.6" transform="rotate(0 629.1 1259.6)" stroke="#000" stroke-width="2.5" fill="none"/>
<path d="M634.2 1252.5 L676.5 1252.5" stroke="#000" stroke-width="2.5" fill="none"/>
<path d="M580 1274.5 L635.9 1284.7 L633.3 1267.7" stroke="#000" stroke-width="2.5" fill="none"/>
<ellipse cx="166.8" cy="903.3" rx="9" ry="16.1" transform="rotate(3 166.8 903.3)" stroke="#000" stroke-width="2.6" fill="none"/>
<path d="M163.7 887C165.1 886.8 170.5 886.4 172.5 885.7C174.4 885 173.8 883.3 175.6 882.6C177.4 881.9 180.6 881.5 183.2 881.6C185.8 881.7 189.1 881.9 191 883.1C192.9 884.2 193.3 885.9 194.4 888.4C195.6 891 197.4 894.6 197.9 898.2C198.3 901.8 197.9 906.7 197.1 909.9C196.3 913.2 194.3 915.8 193 917.7C191.6 919.7 191.3 920.8 189.1 921.4C186.8 922.1 181.9 922.3 179.3 921.8C176.7 921.3 175.6 919 173.4 918.5C171.2 918.1 167.3 919.1 166.1 919.2" stroke="#000" stroke-width="2.6" fill="none"/>
<path d="M175.6 893.3 L187.6 892.3" stroke="#000" stroke-width="2.1" fill="none"/>
<path d="M173.9 910.9 L186.3 909.7" stroke="#000" stroke-width="2.1" fill="none"/>
<path d="M174.4 885.7C174.8 887.1 176.4 890.3 176.6 894.3C176.8 898.3 176.1 905.9 175.6 909.9C175.1 913.9 174 916.8 173.6 918.2" stroke="#000" stroke-width="2.1" fill="none"/>
<path d="M178.5 883.6C180.1 884.6 186.5 885.7 188.3 889.6C190.1 893.5 189.9 902 189.3 907C188.6 912 185.2 917.6 184.4 919.7" stroke="#000" stroke-width="2.1" fill="none"/>
<path d="M194.9 890.4 L240.8 884 L286.7 876.9" stroke="#000" stroke-width="2.6" fill="none"/>
<path d="M198 907.2 L240.8 901.3 L290.6 894.3" stroke="#000" stroke-width="2.6" fill="none"/>
<path d="M286.7 876.9C287.7 878.2 291.9 881.6 292.6 884.5C293.2 887.4 291 892.7 290.6 894.3" stroke="#000" stroke-width="2.6" fill="none"/>
<path d="M242.8 884.6C242.5 885.9 241 889.8 241 892.4C241 895 242.5 899 242.8 900.3" stroke="#000" stroke-width="2.2" fill="none"/>
<path d="M247.9 883.8C247.6 885.2 246.1 889.1 246.1 891.7C246.1 894.3 247.6 898.2 247.9 899.6" stroke="#000" stroke-width="2.2" fill="none"/>
<path d="M252.9 883.1C252.6 884.4 251.2 888.4 251.2 891C251.2 893.6 252.6 897.5 252.9 898.8" stroke="#000" stroke-width="2.2" fill="none"/>
<path d="M258 882.4C257.7 883.7 256.2 887.7 256.2 890.3C256.2 892.9 257.7 896.8 258 898.1" stroke="#000" stroke-width="2.2" fill="none"/>
<path d="M263.1 881.7C262.8 883 261.3 887 261.3 889.6C261.3 892.2 262.8 896.1 263.1 897.4" stroke="#000" stroke-width="2.2" fill="none"/>
<path d="M268.2 881C267.9 882.3 266.4 886.2 266.4 888.9C266.4 891.5 267.9 895.4 268.2 896.7" stroke="#000" stroke-width="2.2" fill="none"/>
<path d="M273.2 880.3C272.9 881.6 271.5 885.5 271.5 888.1C271.5 890.8 272.9 894.7 273.2 896" stroke="#000" stroke-width="2.2" fill="none"/>
<path d="M278.3 879.6C278 880.9 276.6 884.8 276.6 887.4C276.6 890 278 894 278.3 895.3" stroke="#000" stroke-width="2.2" fill="none"/>
<path d="M283.4 878.9C283.1 880.2 281.6 884.1 281.6 886.7C281.6 889.3 283.1 893.2 283.4 894.5" stroke="#000" stroke-width="2.2" fill="none"/>
<path d="M221.2 839.1 L221.2 885.9" stroke="#000" stroke-width="2.5" fill="none"/>
<path d="M304.1 882 L386.1 869.8 L210.3 1099.5" stroke="#000" stroke-width="2.5" fill="none"/>
<path d="M296 990 L208.6 1101 L268.7 1091.7" stroke="#000" stroke-width="2.5" fill="none"/>
<path d="M241.5 1051.6C241.4 1045.6 239.9 1023.2 240.8 1015.8C241.8 1008.4 242.1 1009.2 247.3 1007.2C252.4 1005.2 266.1 1003.8 271.6 1003.6C277.1 1003.4 278.8 1005.4 280.2 1005.8" stroke="#000" stroke-width="2.5" fill="none"/>
<path d="M249.4 1044.4C249.4 1039.9 248.8 1022.3 249.4 1017.2C250 1012.1 249.5 1014.6 253 1013.6C256.5 1012.7 266.5 1011.6 270.2 1011.5C273.9 1011.4 274.4 1012.7 275.2 1012.9" stroke="#000" stroke-width="2.5" fill="none"/>
<path d="M286.7 1012.9C289.8 1016.9 302 1031.3 305.3 1036.5C308.5 1041.8 306.8 1042.1 306.3 1044.1C305.8 1046.2 304.8 1047.9 302.4 1049C300 1050.1 295.8 1050.4 291.7 1050.9C287.5 1051.3 279.7 1051.7 277.3 1051.9" stroke="#000" stroke-width="2.5" fill="none"/>
<path d="M281.6 1020.8C284.3 1023.9 295.2 1035.8 297.4 1039.4C299.5 1043.1 298.3 1041.7 294.5 1042.7C290.7 1043.7 279.4 1044.5 274.5 1045.6C269.6 1046.6 269.1 1046.9 265.2 1049C261.2 1051.1 253.2 1056.5 250.8 1058" stroke="#000" stroke-width="2.5" fill="none"/>
<path d="M277.3 1053.7C279.6 1058.1 288.1 1076.2 290.9 1079.9C293.8 1083.6 296 1080.4 294.5 1075.9C293.1 1071.4 284.4 1056.8 282.4 1053" stroke="#000" stroke-width="2.5" fill="none"/>
<path d="M250.8 1058.7 L279.5 1090.3 L320.3 1146.1 L326 1150.4" stroke="#000" stroke-width="2.5" fill="none"/>
<path d="M248 1065.9 L317.4 1156.1" stroke="#000" stroke-width="2.5" fill="none"/>
<path d="M248.7 1068.1 L248.7 1089.5" stroke="#000" stroke-width="2.5" fill="none"/>
<path d="M285.9 1051.6 L327.5 1111.7" stroke="#000" stroke-width="2.5" fill="none"/>
<path d="M293.1 1050.2C300.7 1060.7 329.6 1099.3 338.9 1113.2C348.2 1127 346.8 1128 349 1133.2C351.1 1138.5 351.3 1142.8 351.8 1144.7" stroke="#000" stroke-width="2.5" fill="none"/>
<path d="M324.6 1123.9C324.8 1123.1 325.2 1119.9 326 1118.9C326.9 1117.9 325.6 1114.1 329.6 1118.2C333.7 1122.2 346.9 1139.1 350.4 1143.3" stroke="#000" stroke-width="2.5" fill="none"/>
<path d="M324.6 1123.9 L344.7 1149" stroke="#000" stroke-width="2.5" fill="none"/>
<path d="M323.2 1151.1 L379 1181.2 L409.1 1180.2 L414.8 1174 L386.2 1139.7 L354.7 1144.4 L349 1140.4" stroke="#000" stroke-width="2.5" fill="none"/>
<path d="M351.8 1151.8 L383.3 1147.5 L407.7 1176.2 L380.5 1176.2 L324.6 1146.8" stroke="#000" stroke-width="2.5" fill="none"/>
<path d="M346.1 1151.8 L346.1 1157.6" stroke="#000" stroke-width="2.5" fill="none"/>
<path d="M353.3 1151.8 L353.3 1163.3" stroke="#000" stroke-width="2.5" fill="none"/>
<path d="M251.1 1103.6C252.8 1106.1 259 1114 261.2 1118.8C263.5 1123.6 264.9 1127.8 264.6 1132.3C264.3 1136.8 262.4 1141.6 259.6 1145.9C256.7 1150.1 249.7 1155.8 247.7 1157.7" stroke="#000" stroke-width="2.5" fill="none"/>
<path d="M209.3 1158.7C210.9 1157.7 215.4 1154.1 218.7 1152.8C222 1151.5 226.5 1151.1 229.2 1151.1C232 1151.1 232.3 1151.7 235.1 1152.8C237.8 1153.9 243.9 1156.7 245.6 1157.5" stroke="#000" stroke-width="2.5" fill="none"/>
<path d="M245.6 1157.5 L262 1173.9 L276.1 1193.8" stroke="#000" stroke-width="2.5" fill="none"/>
<path d="M209.3 1158.7C207.7 1161 202 1168.4 199.9 1172.7C197.9 1177 197 1180.7 197 1184.5C197 1188.2 198.3 1192.7 199.9 1195C201.6 1197.3 202.9 1196 207 1198.5C211.1 1201.1 221.6 1208.3 224.5 1210.2" stroke="#000" stroke-width="2.5" fill="none"/>
<path d="M215.2 1164.5C213.8 1166.3 208.7 1171.6 207 1175.1C205.2 1178.6 204.9 1182.3 204.8 1185.6C204.7 1188.9 206.1 1193.4 206.4 1195" stroke="#000" stroke-width="1.7" fill="none"/>
<path d="M224.5 1210.2C224.6 1212 224.1 1218.1 225.1 1220.8C226.1 1223.5 228.1 1225.2 230.4 1226.6C232.6 1228.1 235.9 1229.3 238.6 1229.6C241.3 1229.9 242.5 1230.1 246.8 1228.4C251.1 1226.7 258.3 1224 264.4 1219.6C270.4 1215.2 277.1 1209.5 283.1 1202C289.2 1194.6 297 1179.9 300.7 1175.1C304.4 1170.3 304 1173.1 305.4 1173.3C306.8 1173.5 307.3 1174.4 308.9 1176.3C310.5 1178.1 312.8 1182.4 314.8 1184.5C316.7 1186.5 316.9 1187.8 320.6 1188.6C324.3 1189.3 332.7 1190.2 337 1189.1C341.3 1188.1 344.1 1185 346.4 1182.1C348.8 1179.2 350.3 1173.3 351.1 1171.6" stroke="#000" stroke-width="2.5" fill="none"/>
<path d="M239.8 1186.8C238.6 1188.2 234.5 1192.1 232.7 1195C231 1197.9 229.7 1200.9 229.2 1204.4C228.7 1207.9 228.8 1213.2 229.8 1216.1C230.8 1219 232.4 1220.8 235.1 1222C237.7 1223.1 243.9 1222.9 245.6 1223.1" stroke="#000" stroke-width="2.5" fill="none"/>
<path d="M240.9 1188C243.3 1187.2 250.5 1183.8 255 1183.3C259.5 1182.8 264.4 1183.3 267.9 1185C271.4 1186.8 274.7 1192.4 276.1 1193.8" stroke="#000" stroke-width="2.5" fill="none"/>
<path d="M255 1216.1 L298.4 1178.6" stroke="#000" stroke-width="2.5" fill="none"/>
<path d="M341.7 1177.4 L335.9 1185.6" stroke="#000" stroke-width="2.0" fill="none"/>
<path d="M244.3 1229.7 L244.3 1289.7" stroke="#000" stroke-width="2.0" fill="none"/>
<path d="M238 1290 L244 1278 L246 1290Z" fill="#000"/>
<path d="M386.9 1043.2C384.7 1044 377.1 1044.6 374 1047.9C370.9 1051.2 369.3 1058.2 368.1 1063.1C367 1068 365.8 1071.7 367 1077.2C368.1 1082.7 368.7 1087.2 375.2 1095.9C381.6 1104.7 395.9 1119.4 405.6 1129.9C415.4 1140.5 427.5 1154.2 433.8 1159.2C440 1164.2 432.8 1161.2 443.1 1159.8C453.5 1158.4 485.5 1156 495.9 1151C506.2 1146 503.9 1136.4 505.2 1129.9C506.6 1123.5 505.8 1118.2 504.1 1112.3C502.3 1106.5 496.6 1098.7 494.7 1094.8C492.7 1090.9 492.3 1090.9 492.3 1088.9C492.3 1087 494.9 1085 494.7 1083.1C494.5 1081.1 495.1 1078.6 491.2 1077.2C487.3 1075.8 474.6 1075.2 471.3 1074.8" stroke="#000" stroke-width="2.5" fill="none"/>
<path d="M386.9 1043.2 L433.8 1036.2" stroke="#000" stroke-width="2.5" fill="none"/>
<path d="M433.8 1036.2C435.1 1035.6 438.8 1033.9 442 1032.7C445.1 1031.4 450 1028.9 452.5 1028.6C455 1028.2 456.4 1029.2 457.2 1030.3C458 1031.4 458.2 1033.8 457.2 1035C456.2 1036.2 453.3 1036.2 451.3 1037.3C449.4 1038.5 446.4 1041.3 445.5 1042" stroke="#000" stroke-width="2.5" fill="none"/>
<path d="M389.2 1046.7 L434.9 1099.5" stroke="#000" stroke-width="2.5" fill="none"/>
<ellipse cx="384.5" cy="1072.5" rx="8.8" ry="15.2" transform="rotate(-10 384.5 1072.5)" stroke="#000" stroke-width="2.5" fill="none"/>
<ellipse cx="385.9" cy="1071.9" rx="5.3" ry="10.3" transform="rotate(-10 385.9 1071.9)" stroke="#000" stroke-width="2.5" fill="none"/>
<path d="M399.8 1071.3 L429.1 1105.3 L419.7 1110 L399.8 1087.7Z" stroke="#000" stroke-width="2.5" fill="none"/>
<path d="M404.5 1086.6 L412.7 1085.4" stroke="#000" stroke-width="2.0" fill="none"/>
<path d="M390.4 1104.1 L398.6 1098.3 L416.2 1118.2 L415 1133.4Z" stroke="#000" stroke-width="2.5" fill="none"/>
<ellipse cx="433.8" cy="1133.4" rx="9.4" ry="16.4" transform="rotate(-5 433.8 1133.4)" stroke="#000" stroke-width="2.5" fill="none"/>
<path d="M443.1 1108.8C444.1 1111.4 447.8 1117.6 449 1124.1C450.2 1130.5 450.9 1141.6 450.2 1147.5C449.4 1153.4 445.3 1157.3 444.3 1159.2" stroke="#000" stroke-width="2.5" fill="none"/>
<path d="M434.9 1039.7C435.3 1042 435.5 1049.5 437.3 1053.8C439 1058.1 440.2 1061.8 445.5 1065.5C450.7 1069.2 461.1 1073.9 468.9 1076C476.7 1078.2 488.4 1078 492.3 1078.4" stroke="#000" stroke-width="2.5" fill="none"/>
<path d="M442 1042C441.8 1044 439.8 1050.2 440.8 1053.8C441.8 1057.3 443.1 1060 447.8 1063.1C452.5 1066.3 465.4 1070.9 468.9 1072.5" stroke="#000" stroke-width="2.5" fill="none"/>
<path d="M452.5 1046.7C456.6 1046.3 472 1042.6 477.1 1044.4C482.2 1046.1 482.4 1053.2 483 1057.3C483.6 1061.4 483 1066.4 480.6 1069C478.3 1071.5 470.9 1071.9 468.9 1072.5" stroke="#000" stroke-width="2.5" fill="none"/>
<path d="M425.6 1049.1C425.7 1051.2 425.4 1058.2 426.7 1062C428.1 1065.7 432.6 1069.8 433.8 1071.3" stroke="#000" stroke-width="2.5" fill="none"/>
<path d="M440.8 1077.2C443.5 1078.8 449.6 1083.8 457.2 1086.6C464.8 1089.3 481.6 1092.4 486.5 1093.6" stroke="#000" stroke-width="2.5" fill="none"/>
<path d="M401.9 992.8 L401.5 1038.5" stroke="#000" stroke-width="2.5" fill="none"/>
<ellipse cx="524.5" cy="1168.1" rx="12.2" ry="5.6" transform="rotate(22 524.5 1168.1)" stroke="#000" stroke-width="2.5" fill="none"/>
<ellipse cx="552" cy="1166.5" rx="13.6" ry="5.9" transform="rotate(20 552 1166.5)" stroke="#000" stroke-width="2.5" fill="none"/>
<path d="M513.3 1163.4 L494.5 1208" stroke="#000" stroke-width="2.5" fill="none"/>
<path d="M560.2 1184.5 L513.3 1311.1" stroke="#000" stroke-width="2.5" fill="none"/>
<path d="M492.2 1208 L396.1 1309.9" stroke="#000" stroke-width="2.5" fill="none"/>
<path d="M501.6 1217.3 L405.5 1314.6" stroke="#000" stroke-width="2.5" fill="none"/>
<path d="M503.9 1217.3 L492.2 1254.8" stroke="#000" stroke-width="2.5" fill="none"/>
<path d="M492.2 1208 L503.9 1217.3" stroke="#000" stroke-width="2.5" fill="none"/>
<path d="M396.1 1309.9 L405.5 1318.1 L438.3 1314.6 L440.6 1307.6 L459.4 1287.7" stroke="#000" stroke-width="2.5" fill="none"/>
<path d="M489.8 1258.4 L461.7 1285.3" stroke="#000" stroke-width="2.5" fill="none"/>
<path d="M459.4 1287.7C459.8 1290.4 458.6 1299.4 461.7 1304.1C464.8 1308.7 471.9 1313.4 478.1 1315.8C484.4 1318.1 493.4 1318.9 499.2 1318.1C505.1 1317.3 510.9 1312.3 513.3 1311.1" stroke="#000" stroke-width="2.5" fill="none"/>
<path d="M365.6 1283C359.8 1282.8 338.1 1280.6 330.5 1281.8C322.9 1283 321.6 1286.9 319.9 1290C318.3 1293.1 316.5 1296.4 320.6 1300.5C324.7 1304.6 338.4 1307.8 344.5 1314.6C350.7 1321.4 352.5 1334.1 357.4 1341.6C362.3 1349 367.8 1355.5 373.8 1359.1C379.9 1362.7 387.7 1363.3 393.7 1363.1C399.8 1362.9 402.3 1361.6 410.2 1358C418 1354.3 421.7 1346.6 440.6 1341.1C459.6 1335.6 508.6 1329.6 523.8 1325.2C539.1 1320.7 530.5 1318.9 532 1314.6C533.6 1310.3 534.4 1303.5 533.2 1299.4C532 1295.3 527 1292.1 525 1290C523 1287.9 522.1 1287.1 521.5 1286.5" stroke="#000" stroke-width="2.6" fill="none"/>
<path d="M365.6 1283 L433.6 1274.8" stroke="#000" stroke-width="2.5" fill="none"/>
<path d="M321.6 1304.1C325 1306.7 336.5 1313.7 342.2 1320C347.9 1326.2 351.5 1334.5 355.8 1341.6C360.1 1348.7 363.6 1357.8 368 1362.7C372.3 1367.5 377 1368.8 382 1370.4C387.1 1372 393.2 1373 398.4 1372C403.7 1371.1 405.9 1368.7 413.7 1364.5C421.5 1360.3 426.6 1352.2 445.3 1346.7C464.1 1341.2 511.5 1336.5 526.2 1331.7C540.8 1327 532 1320.4 533.2 1318.1" stroke="#000" stroke-width="2.5" fill="none"/>
<ellipse cx="349.2" cy="1299.4" rx="9.8" ry="6.6" transform="rotate(10 349.2 1299.4)" stroke="#000" stroke-width="2.5" fill="none"/>
<ellipse cx="350.4" cy="1300.5" rx="5.9" ry="2.8" transform="rotate(10 350.4 1300.5)" stroke="#000" stroke-width="2.0" fill="none"/>
<ellipse cx="389.1" cy="1352.1" rx="10.5" ry="7" transform="rotate(10 389.1 1352.1)" stroke="#000" stroke-width="2.5" fill="none"/>
<ellipse cx="390.2" cy="1353.3" rx="6.3" ry="3.3" transform="rotate(10 390.2 1353.3)" stroke="#000" stroke-width="2.0" fill="none"/>
<path d="M539.1 1266.6 L635.2 1286.5 L632.8 1271.2" stroke="#000" stroke-width="2.5" fill="none"/>
<path d="M446.9 1349.4C444.8 1354.8 436.5 1374.9 434.4 1381.7C432.3 1388.5 433.9 1387.9 434.4 1390C434.9 1392.1 434.9 1392.5 437.5 1394.2C440.1 1395.9 445.8 1399.2 450 1400.4C454.2 1401.6 460.4 1401.3 462.5 1401.5" stroke="#000" stroke-width="2.5" fill="none"/>
<path d="M487.5 1349.4C484.2 1357.6 471.9 1389.5 467.7 1398.3C463.5 1407.1 463.4 1401.8 462.5 1402.5" stroke="#000" stroke-width="2.5" fill="none"/>
<path d="M435.4 1396.2C433 1402.8 422.9 1428.3 420.8 1435.8C418.7 1443.3 420.6 1439.3 422.9 1441C425.2 1442.7 430.8 1445.5 434.4 1446.2C438 1447 443.1 1445.4 444.8 1445.2" stroke="#000" stroke-width="2.5" fill="none"/>
<path d="M461.5 1403.5 L444.8 1445.2" stroke="#000" stroke-width="2.5" fill="none"/>
<path d="M433.8 1400.6C435.8 1401.7 441.4 1405.6 445.7 1406.9C450 1408.1 457.3 1407.9 459.6 1408.1" stroke="#000" stroke-width="2.0" fill="none"/>
<path d="M432.2 1405C434.1 1406.1 439.7 1410.1 444 1411.4C448.2 1412.7 455.5 1412.5 457.8 1412.8" stroke="#000" stroke-width="2.0" fill="none"/>
<path d="M430.5 1409.4C432.5 1410.5 438 1414.6 442.2 1415.9C446.5 1417.2 453.6 1417.2 455.9 1417.4" stroke="#000" stroke-width="2.0" fill="none"/>
<path d="M428.9 1413.8C430.8 1414.9 436.3 1419 440.5 1420.4C444.7 1421.8 451.8 1421.8 454.1 1422" stroke="#000" stroke-width="2.0" fill="none"/>
<path d="M427.3 1418.2C429.2 1419.3 434.6 1423.5 438.8 1424.9C442.9 1426.3 450 1426.4 452.2 1426.7" stroke="#000" stroke-width="2.0" fill="none"/>
<path d="M425.7 1422.6C427.6 1423.7 432.9 1428 437 1429.4C441.1 1430.9 448.1 1431 450.4 1431.3" stroke="#000" stroke-width="2.0" fill="none"/>
<path d="M424 1427C425.9 1428.1 431.2 1432.5 435.3 1434C439.4 1435.4 446.3 1435.6 448.5 1435.9" stroke="#000" stroke-width="2.0" fill="none"/>
<path d="M422.4 1431.4C424.3 1432.5 429.5 1436.9 433.5 1438.5C437.6 1440 444.5 1440.2 446.7 1440.6" stroke="#000" stroke-width="2.0" fill="none"/>
<ellipse cx="424.8" cy="1460.2" rx="17.9" ry="10.4" transform="rotate(18 424.8 1460.2)" stroke="#000" stroke-width="2.5" fill="none"/>
<ellipse cx="424.8" cy="1460.2" rx="13.1" ry="6.7" transform="rotate(18 424.8 1460.2)" stroke="#000" stroke-width="2.5" fill="none"/>
<path d="M443.9 1462.3 L486.8 1462.3" stroke="#000" stroke-width="2.5" fill="none"/>
<path d="M373 1488.2C374.1 1486.5 376.8 1480.3 379.5 1477.8C382.2 1475.3 385 1474.1 389.3 1473.3C393.6 1472.4 400.7 1472.6 405.6 1472.9C410.5 1473.3 414.3 1473.7 418.6 1475.2C422.9 1476.7 427.5 1479.1 431.6 1481.7C435.7 1484.3 440.5 1487.6 443.3 1490.8C446.2 1494.1 447.6 1498.2 448.5 1501.2C449.5 1504.3 449.5 1506.7 449.2 1509.1C448.9 1511.4 447 1514.5 446.6 1515.6" stroke="#000" stroke-width="2.6" fill="none"/>
<path d="M373 1488.2C372.7 1489.3 372.2 1491.8 371.1 1494.7C370 1497.7 367.4 1502.3 366.5 1505.8C365.6 1509.3 365.3 1512.3 365.9 1515.6C366.4 1518.8 367.5 1522.1 369.8 1525.3C372 1528.6 375.7 1532.4 379.5 1535.1C383.3 1537.8 388.2 1539.8 392.6 1541.6C396.9 1543.5 401.2 1545.3 405.6 1546.2C409.9 1547 414.8 1547.4 418.6 1546.8C422.4 1546.3 425.1 1544.9 428.4 1542.9C431.6 1541 435.8 1537.5 438.1 1535.1C440.4 1532.7 440.7 1531 442 1528.6C443.3 1526.2 444.7 1524 445.9 1520.8C447.1 1517.5 448.7 1511 449.2 1509.1" stroke="#000" stroke-width="2.6" fill="none"/>
<path d="M382.1 1494.7C382.1 1493.9 381.5 1491.8 382.1 1489.5C382.8 1487.3 384.3 1483.1 386 1481.1C387.8 1479 389.3 1478 392.6 1477.2C395.8 1476.3 401.2 1476.1 405.6 1476.2C409.9 1476.3 414.3 1476.3 418.6 1477.8C422.9 1479.3 428 1482.2 431.6 1485C435.2 1487.8 438.2 1491.3 440.1 1494.7C441.9 1498.2 442.6 1502.9 442.7 1505.8C442.8 1508.7 442.6 1510.5 440.7 1512.3C438.9 1514.2 434.8 1516 431.6 1516.9C428.5 1517.7 425.6 1517.7 421.8 1517.5C418.1 1517.3 413.7 1517 408.8 1515.6C403.9 1514.2 396.6 1511.4 392.6 1509.1C388.5 1506.7 386.5 1503.6 384.7 1501.2C383 1498.9 382.6 1495.8 382.1 1494.7" stroke="#000" stroke-width="2.6" fill="none"/>
<path d="M384.7 1485.6C386 1485.1 389.1 1482.8 392.6 1482.4C396 1481.9 401.2 1482 405.6 1483C409.9 1484 414.3 1486.1 418.6 1488.2C422.9 1490.4 428.4 1493.1 431.6 1496C434.9 1499 436.8 1503.1 438.1 1505.8C439.4 1508.5 439.2 1511.2 439.4 1512.3" stroke="#000" stroke-width="2.1" fill="none"/>
<path d="M383.4 1490.2C385 1489.9 388.3 1488.1 392.6 1488.2C396.8 1488.3 403.9 1489.3 408.8 1490.8C413.7 1492.4 418.1 1494.7 421.8 1497.3C425.6 1499.9 429.3 1503.6 431.6 1506.5C433.9 1509.3 434.9 1513 435.5 1514.3" stroke="#000" stroke-width="2.1" fill="none"/>
<path d="M384.1 1492.8C386.6 1492.8 393.9 1491.7 399.1 1492.8C404.3 1493.9 410.5 1496.6 415.3 1499.3C420.2 1502 425.6 1506.3 428.4 1509.1C431.1 1511.8 431.1 1514.5 431.6 1515.6" stroke="#000" stroke-width="2.1" fill="none"/>
<path d="M386 1500.6C387.7 1500.6 392 1499.7 395.8 1500.6C399.6 1501.5 404.5 1503.9 408.8 1505.8C413.2 1507.8 418.9 1510.5 421.8 1512.3C424.8 1514.2 425.6 1516.1 426.4 1516.9" stroke="#000" stroke-width="2.1" fill="none"/>
<path d="M371.7 1498C373 1499.8 376.1 1505.5 379.5 1509.1C383 1512.6 387.1 1516.4 392.6 1519.5C398 1522.5 406.1 1526 412.1 1527.3C418.1 1528.6 423.5 1528.4 428.4 1527.3C433.2 1526.2 438.3 1522.7 441.4 1520.8C444.4 1518.8 445.7 1516.4 446.6 1515.6" stroke="#000" stroke-width="2.6" fill="none"/>
<path d="M371.1 1501.2C372.3 1503.1 374.6 1508.5 378.2 1512.3C381.8 1516.1 386.9 1520.9 392.6 1524C398.2 1527.2 406.1 1529.9 412.1 1531.2C418.1 1532.5 423.5 1532.8 428.4 1531.8C433.2 1530.9 438.7 1527.2 441.4 1525.3C444.1 1523.5 444.1 1521.5 444.6 1520.8" stroke="#000" stroke-width="2.6" fill="none"/>
<path d="M402.3 1517.5C405 1518.3 413.7 1521.3 418.6 1522.1C423.5 1522.8 427.3 1523 431.6 1522.1C436 1521.2 442.5 1517.7 444.6 1516.9" stroke="#000" stroke-width="2.1" fill="none"/>
<path d="M450.3 1515.2 L492.2 1515.2" stroke="#000" stroke-width="2.5" fill="none"/>
<ellipse cx="381" cy="1570.4" rx="30.1" ry="19.1" transform="rotate(15 381 1570.4)" stroke="#000" stroke-width="2.5" fill="none"/>
<path d="M373.7 1562.2C372.8 1563.1 368.6 1565.6 368.3 1567.7C368 1569.8 369.2 1573.2 371.9 1575C374.7 1576.8 380.7 1578.6 384.7 1578.6C388.6 1578.6 393.5 1576.8 395.6 1575C397.7 1573.2 398.4 1570.1 397.4 1567.7C396.5 1565.3 391.4 1561.6 390.2 1560.4" stroke="#000" stroke-width="2.5" fill="none"/>
<path d="M351 1565.9C351.1 1567.4 349.3 1571.3 351.9 1575C354.5 1578.6 361 1584.6 366.5 1587.8C371.9 1590.9 379.2 1593.2 384.7 1594.1C390.2 1595 395.3 1594.6 399.3 1593.2C403.2 1591.9 406.9 1587.1 408.4 1585.9" stroke="#000" stroke-width="2.5" fill="none"/>
<path d="M351.9 1575C349.9 1580.5 341.8 1600.2 340 1607.8C338.2 1615.4 338.1 1616.6 340.9 1620.6C343.8 1624.5 351.6 1629.1 357.3 1631.5C363.1 1633.9 370.7 1636.1 375.6 1635.1C380.4 1634.2 382.6 1632.9 386.5 1626C390.5 1619.2 397.1 1599.4 399.3 1594.1" stroke="#000" stroke-width="2.5" fill="none"/>
<path d="M408.4 1585 L454 1585.9" stroke="#000" stroke-width="2.5" fill="none"/>
<path d="M312.8 1647.2C314.6 1645.8 319.3 1640.4 323.8 1638.6C328.2 1636.8 333.6 1636.1 339.4 1636.2C345.1 1636.4 352.4 1636.8 358.1 1639.4C363.9 1642 370.1 1647.7 373.8 1651.9C377.4 1656 379.5 1660.5 380 1664.4C380.5 1668.3 379.7 1672.4 376.9 1675.3C374 1678.2 368.5 1680.8 362.8 1681.6C357.1 1682.3 349 1681.8 342.5 1680C336 1678.2 328.6 1674.5 323.8 1670.6C318.9 1666.7 315.4 1660.5 313.6 1656.6C311.8 1652.7 312.9 1648.8 312.8 1647.2" stroke="#000" stroke-width="2.5" fill="none"/>
<path d="M320.6 1647.2C322.2 1646.4 325.3 1643 330 1642.5C334.7 1642 342.5 1642 348.8 1644.1C355 1646.1 363.3 1651.4 367.5 1655C371.7 1658.6 373.8 1662.6 373.8 1665.9C373.8 1669.3 371.1 1673.5 367.5 1675.3C363.9 1677.1 357.9 1677.9 351.9 1676.9C345.9 1675.8 336.5 1672.2 331.6 1669.1C326.6 1665.9 324 1661.8 322.2 1658.1C320.4 1654.5 320.9 1649 320.6 1647.2" stroke="#000" stroke-width="2.5" fill="none"/>
<path d="M323.8 1656.6C326.4 1656.3 333.6 1654 339.4 1655C345.1 1656 352.9 1659.9 358.1 1662.8C363.3 1665.7 368.5 1670.6 370.6 1672.2" stroke="#000" stroke-width="2.5" fill="none"/>
<path d="M311.2 1651.9C310.3 1655 305.3 1664.9 305.8 1670.6C306.3 1676.4 308.8 1681.3 314.4 1686.2C320 1691.2 332.1 1697.7 339.4 1700.3C346.7 1703 352.9 1703 358.1 1702.2C363.3 1701.4 367 1701.4 370.6 1695.6C374.3 1689.8 378.4 1672.2 380 1667.5" stroke="#000" stroke-width="2.5" fill="none"/>
<path d="M381.6 1671.4 L428.4 1672.2" stroke="#000" stroke-width="2.5" fill="none"/>
<ellipse cx="323" cy="1726.1" rx="29.7" ry="19.5" transform="rotate(18 323 1726.1)" stroke="#000" stroke-width="2.5" fill="none"/>
<path d="M294.1 1723.8C294.6 1725.3 294.3 1729.7 297.2 1733.1C300.1 1736.5 305.8 1741.6 311.2 1744.1C316.7 1746.5 324 1748 330 1748C336 1748 343.3 1746.5 347.2 1744.1C351.1 1741.6 352.4 1734.9 353.4 1733.1" stroke="#000" stroke-width="2.5" fill="none"/>
<ellipse cx="322.2" cy="1724.5" rx="11.7" ry="7.5" transform="rotate(18 322.2 1724.5)" stroke="#000" stroke-width="2.5" fill="none"/>
<path d="M312.8 1717.5C312.6 1718.5 310.5 1721.9 311.2 1723.8C312 1725.6 316.5 1727.7 317.5 1728.4" stroke="#000" stroke-width="2.0" fill="none"/>
<path d="M353.4 1731.2 L408.9 1732.3" stroke="#000" stroke-width="2.5" fill="none"/>
<ellipse cx="305" cy="1770.6" rx="24.2" ry="16.9" transform="rotate(18 305 1770.6)" stroke="#000" stroke-width="2.5" fill="none"/>
<path d="M280.8 1769.1C281.2 1770.6 280.7 1775.3 283.1 1778.4C285.6 1781.6 290.9 1785.7 295.6 1787.8C300.3 1789.9 306.3 1791.2 311.2 1790.9C316.2 1790.7 322.2 1788.9 325.3 1786.2C328.4 1783.6 329.2 1777.1 330 1775.3" stroke="#000" stroke-width="2.5" fill="none"/>
<ellipse cx="306.6" cy="1769.1" rx="12.2" ry="8.1" transform="rotate(18 306.6 1769.1)" stroke="#000" stroke-width="2.5" fill="none"/>
<path d="M330 1777.7 L384.7 1779.2" stroke="#000" stroke-width="2.5" fill="none"/>
<path d="M269.1 1801.6C270.6 1801.1 273.9 1798.7 278.4 1798.6C282.9 1798.5 290.6 1798.8 296 1801C301.4 1803.1 308 1808.5 310.7 1811.5C313.3 1814.5 312.3 1816.7 311.8 1819.1C311.3 1821.6 309.9 1824.6 307.7 1826.2C305.6 1827.7 302.4 1828.1 298.9 1828.2C295.5 1828.3 290.6 1827.6 287.2 1826.7C283.8 1825.9 281.4 1825.3 278.4 1823.2C275.5 1821.2 271.2 1818.1 269.6 1814.4C268.1 1810.8 269.2 1803.7 269.1 1801.6" stroke="#000" stroke-width="2.6" fill="none"/>
<path d="M269.1 1801.6C268.2 1803.2 264.8 1807.4 263.8 1811.5C262.8 1815.6 262.7 1822.5 263.2 1826.2C263.7 1829.8 264.7 1830.6 266.7 1833.2C268.8 1835.7 272.6 1839.4 275.5 1841.4C278.4 1843.3 280.9 1844.4 284.3 1844.9C287.7 1845.4 292.6 1845.7 296 1844.3C299.4 1843 302.5 1839.5 304.8 1836.7C307.1 1833.9 309.2 1828.9 310.1 1827.3" stroke="#000" stroke-width="2.6" fill="none"/>
<ellipse cx="289.9" cy="1813" rx="12.3" ry="8.5" transform="rotate(22 289.9 1813)" stroke="#000" stroke-width="2.2" fill="#000"/>
<path d="M281.4 1808C283.3 1808.2 290.1 1808.3 293.1 1809.2C296 1810 298 1812.6 298.9 1813.3" stroke="#fff" stroke-width="1.3" fill="none"/>
<path d="M281.4 1813.3C282.8 1813.5 287.5 1813.8 290.1 1814.4C292.8 1815.1 296 1816.9 297.2 1817.4" stroke="#fff" stroke-width="1.3" fill="none"/>
<path d="M269.6 1813.3 L280.2 1824.4" stroke="#000" stroke-width="2.2" fill="none"/>
<path d="M272.6 1821.5 L269.6 1830.8" stroke="#000" stroke-width="2.2" fill="none"/>
<path d="M286.6 1826.2 L298.4 1828.5" stroke="#000" stroke-width="2.5" fill="none"/>
<path d="M298.4 1828.5 L295.4 1843.7" stroke="#000" stroke-width="2.2" fill="none"/>
<path d="M312 1819.1 L365.9 1820.6" stroke="#000" stroke-width="2.5" fill="none"/>
<ellipse cx="256.2" cy="1865.2" rx="5" ry="3.4" transform="rotate(-12 256.2 1865.2)" stroke="#000" stroke-width="2.5" fill="none"/>
<path d="M260.5 1862.5 L300.3 1855" stroke="#000" stroke-width="2.5" fill="none"/>
<path d="M260.9 1867.5 L301.1 1860" stroke="#000" stroke-width="2.5" fill="none"/>
<path d="M269.1 1864.4 L298.8 1858.4" stroke="#000" stroke-width="1.6" fill="none"/>
<path d="M298.8 1853.8C299.1 1853.9 300.6 1853.7 301.1 1854.7C301.6 1855.7 301.5 1858.9 301.6 1859.7" stroke="#000" stroke-width="2.5" fill="none"/>
<path d="M300.3 1859.7 L353.4 1861.2" stroke="#000" stroke-width="2.5" fill="none"/>
<path d="M213 1879h3M264 1879h21M316 1881h3" stroke="#000" stroke-width="2"/>
<path d="M626.5 1567.6 L672.1 1568.3" stroke="#000" stroke-width="2.5" fill="none"/>
<path d="M672.1 1568.3C672.5 1566.8 673.4 1561.5 674.8 1559.2C676.2 1556.8 678.5 1555 680.3 1554.2C682.1 1553.3 684.8 1553.9 685.7 1553.9" stroke="#000" stroke-width="2.5" fill="none"/>
<ellipse cx="692.6" cy="1554.2" rx="6.8" ry="7.3" transform="rotate(0 692.6 1554.2)" stroke="#000" stroke-width="2.5" fill="none"/>
<path d="M672.1 1568.3C672.8 1569.5 674.3 1573.7 676.6 1575.6C678.9 1577.5 682.2 1579 685.7 1579.7C689.2 1580.4 694.9 1580.5 697.6 1579.7C700.3 1578.8 701.2 1577.2 702.2 1574.7C703.1 1572.2 703.5 1567.2 703.1 1564.6C702.6 1562.1 700 1560.1 699.4 1559.2" stroke="#000" stroke-width="2.5" fill="none"/>
<path d="M676.6 1560.1 L683 1564.6" stroke="#000" stroke-width="2.5" fill="none"/>
<path d="M690.3 1566.9 L702.2 1568.3" stroke="#000" stroke-width="2.5" fill="none"/>
<path d="M684.8 1557.3C685.6 1558.2 687.3 1561.8 689.4 1562.4C691.5 1563 696.2 1561.2 697.6 1561" stroke="#000" stroke-width="2.6" fill="none"/>
<g transform="translate(195 1530) scale(0.05858)"><path d="M190 660 L460 290 L500 360 L1210 90 L1235 110 L1225 490 L480 810 L470 900 Z" fill="#000"/></g>
<text x="0" y="0" transform="translate(224 1574) skewY(-24)" font-family="Liberation Sans" font-weight="bold" font-size="26" fill="#fff" stroke="#fff" stroke-width="0.9" textLength="40" lengthAdjust="spacingAndGlyphs">FWD</text>
<path d="M815.2 397.3L815.2 416.0M815.2 397.8L808.5 400.6" stroke="#000" stroke-width="2.3" fill="none" stroke-linecap="butt"/>
<text x="821.2" y="416.0" font-family="Liberation Sans" font-size="26.5" textLength="11.8" lengthAdjust="spacingAndGlyphs">9</text>
<path d="M785.5 508.6L785.5 527.0M785.5 509.1L778.8 511.9" stroke="#000" stroke-width="2.3" fill="none" stroke-linecap="butt"/>
<text x="791.5" y="527.0" font-family="Liberation Sans" font-size="26.1" textLength="13.9" lengthAdjust="spacingAndGlyphs">8</text>
<path d="M543.9 556.3L543.9 575.0M543.9 556.8L537.2 559.6" stroke="#000" stroke-width="2.3" fill="none" stroke-linecap="butt"/>
<text x="549.9" y="575.0" font-family="Liberation Sans" font-size="26.5" textLength="12.8" lengthAdjust="spacingAndGlyphs">7</text>
<path d="M493.8 736.8L493.8 754.2M493.8 737.3L487.1 739.9" stroke="#000" stroke-width="2.3" fill="none" stroke-linecap="butt"/>
<text x="499.8" y="754.2" font-family="Liberation Sans" font-size="24.7" textLength="12.2" lengthAdjust="spacingAndGlyphs">7</text>
<path d="M482.8 817.6L482.8 835.0M482.8 818.1L476.0 820.7" stroke="#000" stroke-width="2.3" fill="none" stroke-linecap="butt"/>
<text x="215.5" y="828.6" font-family="Liberation Sans" font-size="25.4" textLength="11.7" lengthAdjust="spacingAndGlyphs">5</text>
<text x="396.3" y="984.0" font-family="Liberation Sans" font-size="27.0" textLength="12.3" lengthAdjust="spacingAndGlyphs">3</text>
<text x="496.7" y="1016.5" font-family="Liberation Sans" font-size="24.8" textLength="12.5" lengthAdjust="spacingAndGlyphs">2</text>
<text x="661.0" y="1160.0" font-family="Liberation Sans" font-size="24.4" textLength="12.0" lengthAdjust="spacingAndGlyphs">2</text>
<text x="732.0" y="1182.0" font-family="Liberation Sans" font-size="23.7" textLength="11.0" lengthAdjust="spacingAndGlyphs">3</text>
<text x="793.0" y="1102.0" font-family="Liberation Sans" font-size="25.1" textLength="12.0" lengthAdjust="spacingAndGlyphs">6</text>
<path d="M679.2 1204.3L679.2 1222.0M679.2 1204.8L672.5 1207.4" stroke="#000" stroke-width="2.3" fill="none" stroke-linecap="butt"/>
<text x="685.2" y="1222.0" font-family="Liberation Sans" font-size="25.1" textLength="11.8" lengthAdjust="spacingAndGlyphs">6</text>
<path d="M695.2 1243.3L695.2 1262.0M695.2 1243.8L688.5 1246.6" stroke="#000" stroke-width="2.3" fill="none" stroke-linecap="butt"/>
<text x="701.2" y="1262.0" font-family="Liberation Sans" font-size="26.5" textLength="10.8" lengthAdjust="spacingAndGlyphs">5</text>
<text x="498.6" y="1472.9" font-family="Liberation Sans" font-size="27.9" textLength="11.9" lengthAdjust="spacingAndGlyphs">7</text>
<text x="503.2" y="1525.8" font-family="Liberation Sans" font-size="25.6" textLength="12.7" lengthAdjust="spacingAndGlyphs">9</text>
<text x="464.0" y="1596.0" font-family="Liberation Sans" font-size="25.6" textLength="11.8" lengthAdjust="spacingAndGlyphs">8</text>
<text x="590.0" y="1578.3" font-family="Liberation Sans" font-size="27.0" textLength="27.8" lengthAdjust="spacingAndGlyphs">20</text>
<path d="M446.6 1662.3L446.6 1680.0M446.6 1662.8L439.9 1665.4" stroke="#000" stroke-width="2.3" fill="none" stroke-linecap="butt"/>
<text x="452.6" y="1680.0" font-family="Liberation Sans" font-size="25.1" textLength="13.4" lengthAdjust="spacingAndGlyphs">0</text>
<path d="M427.0 1722.5L427.0 1740.2M427.0 1723.0L420.3 1725.6" stroke="#000" stroke-width="2.3" fill="none" stroke-linecap="butt"/>
<path d="M442.5 1722.5L442.5 1740.2M442.5 1723.0L434.8 1725.6" stroke="#000" stroke-width="2.3" fill="none" stroke-linecap="butt"/>
<path d="M401.2 1769.3L401.2 1787.8M401.2 1769.8L394.5 1772.6" stroke="#000" stroke-width="2.3" fill="none" stroke-linecap="butt"/>
<text x="407.2" y="1787.8" font-family="Liberation Sans" font-size="26.3" textLength="14.2" lengthAdjust="spacingAndGlyphs">2</text>
<path d="M384.1 1812.3L384.1 1831.6M384.1 1812.8L377.4 1815.7" stroke="#000" stroke-width="2.3" fill="none" stroke-linecap="butt"/>
<text x="390.1" y="1831.6" font-family="Liberation Sans" font-size="27.4" textLength="13.3" lengthAdjust="spacingAndGlyphs">3</text>
<path d="M373.2 1855.3L373.2 1873.0M373.2 1855.8L366.5 1858.4" stroke="#000" stroke-width="2.3" fill="none" stroke-linecap="butt"/>
<text x="379.2" y="1873.0" font-family="Liberation Sans" font-size="25.1" textLength="11.8" lengthAdjust="spacingAndGlyphs">4</text>
<text x="276.5" y="131" font-family="Liberation Sans" font-weight="bold" font-size="39" textLength="76" lengthAdjust="spacingAndGlyphs">FIG.</text>
<text x="362" y="131" font-family="Liberation Sans" font-weight="bold" font-size="39" textLength="50" lengthAdjust="spacingAndGlyphs">26</text>
<text x="0" y="0" font-family="Liberation Mono" font-size="25" transform="translate(143 1912) rotate(1.3) scale(1 1.15)" textLength="146" lengthAdjust="spacingAndGlyphs">LT5OORL E3</text>
<text x="0" y="0" transform="translate(184.4 237.3) rotate(9.2)" font-family="Liberation Serif" font-size="14" fill="#2a2a2a" textLength="144" lengthAdjust="spacingAndGlyphs">vNext Technologies</text>
<text x="0" y="0" transform="translate(699.4 237.3) rotate(9.2)" font-family="Liberation Serif" font-size="14" fill="#2a2a2a" textLength="144" lengthAdjust="spacingAndGlyphs">vNext Technologies</text>
<text x="0" y="0" transform="translate(1214.4 237.3) rotate(9.2)" font-family="Liberation Serif" font-size="14" fill="#2a2a2a" textLength="144" lengthAdjust="spacingAndGlyphs">vNext Technologies</text>
<text x="0" y="0" transform="translate(184.4 751.3) rotate(9.2)" font-family="Liberation Serif" font-size="14" fill="#2a2a2a" textLength="144" lengthAdjust="spacingAndGlyphs">vNext Technologies</text>
<text x="0" y="0" transform="translate(699.4 751.3) rotate(9.2)" font-family="Liberation Serif" font-size="14" fill="#2a2a2a" textLength="144" lengthAdjust="spacingAndGlyphs">vNext Technologies</text>
<text x="0" y="0" transform="translate(1214.4 751.3) rotate(9.2)" font-family="Liberation Serif" font-size="14" fill="#2a2a2a" textLength="144" lengthAdjust="spacingAndGlyphs">vNext Technologies</text>
<text x="0" y="0" transform="translate(184.4 1265.3) rotate(9.2)" font-family="Liberation Serif" font-size="14" fill="#2a2a2a" textLength="144" lengthAdjust="spacingAndGlyphs">vNext Technologies</text>
<text x="0" y="0" transform="translate(699.4 1265.3) rotate(9.2)" font-family="Liberation Serif" font-size="14" fill="#2a2a2a" textLength="144" lengthAdjust="spacingAndGlyphs">vNext Technologies</text>
<text x="0" y="0" transform="translate(1214.4 1265.3) rotate(9.2)" font-family="Liberation Serif" font-size="14" fill="#2a2a2a" textLength="144" lengthAdjust="spacingAndGlyphs">vNext Technologies</text>
<text x="0" y="0" transform="translate(184.4 1779.3) rotate(9.2)" font-family="Liberation Serif" font-size="14" fill="#2a2a2a" textLength="144" lengthAdjust="spacingAndGlyphs">vNext Technologies</text>
<text x="0" y="0" transform="translate(699.4 1779.3) rotate(9.2)" font-family="Liberation Serif" font-size="14" fill="#2a2a2a" textLength="144" lengthAdjust="spacingAndGlyphs">vNext Technologies</text>
<text x="0" y="0" transform="translate(1214.4 1779.3) rotate(9.2)" font-family="Liberation Serif" font-size="14" fill="#2a2a2a" textLength="144" lengthAdjust="spacingAndGlyphs">vNext Technologies</text>
</svg></body></html>
